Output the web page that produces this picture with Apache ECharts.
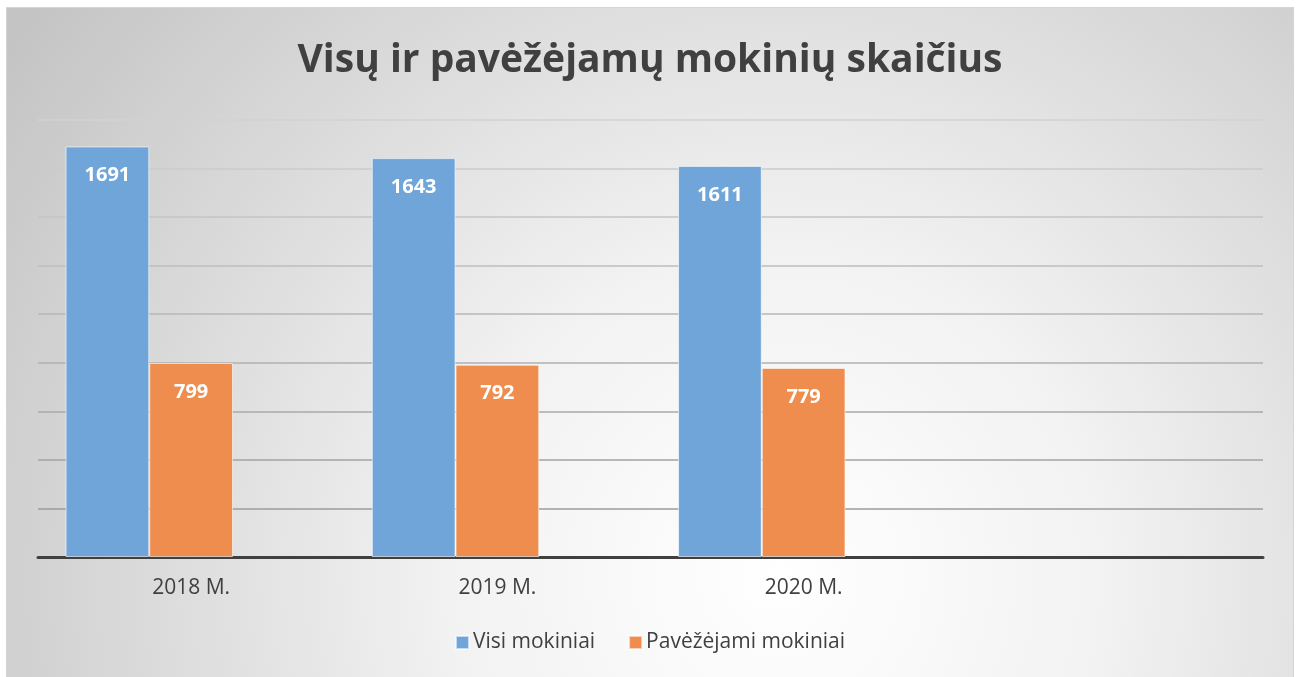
<!DOCTYPE html>
<html>
<head>
<meta charset="utf-8">
<script src="https://cdn.jsdelivr.net/npm/echarts@6/dist/echarts.min.js"></script>
<style>
html, body { margin: 0; padding: 0; background: #fff; }
#chart {
    position: absolute;
    left: 7px;
    top: 8px;
    width: 1286px;
    height: 669px;
    box-shadow: 0 0 0 1px #d4d4d4;
}
</style>
</head>
<body>
<div id="chart"></div>
<script>
// duomenys
const categories = ['2018 M.', '2019 M.', '2020 M.', ''];
const visiMokiniai = [1691, 1643, 1611, null];
const pavezejami = [799, 792, 779, null];
const tusciaSerija = [null, null, null, null]; // trečia tuščia serija kaip Excel'yje

const chart = echarts.init(document.getElementById('chart'));

const labelStyle = {
    show: true,
    position: 'insideTop',
    distance: 19,
    color: '#fff',
    fontWeight: 'bold',
    fontSize: 20,
    fontFamily: 'Open Sans'
};

const option = {
    backgroundColor: {
        type: 'radial',
        x: 0.6, y: 0.85, r: 1.4,
        colorStops: [
            { offset: 0, color: '#ffffff' },
            { offset: 0.35, color: '#f2f2f2' },
            { offset: 0.6, color: '#e0e0e0' },
            { offset: 1, color: '#c4c4c4' }
        ]
    },
    textStyle: { fontFamily: 'Open Sans' },
    title: {
        text: 'Visų ir pavėžėjamų mokinių skaičius',
        left: 'center',
        top: 28,
        textStyle: {
            fontFamily: 'Open Sans',
            fontSize: 39,
            fontWeight: 'bold',
            color: '#404040'
        }
    },
    legend: {
        data: ['Visi mokiniai', 'Pavėžėjami mokiniai'],
        bottom: 19,
        left: 'center',
        icon: 'rect',
        itemWidth: 13,
        itemHeight: 13,
        itemGap: 33,
        textStyle: { fontSize: 21, color: '#404040', padding: [0, 0, 0, -1] }
    },
    grid: { left: 31, right: 30, top: 112, bottom: 120 },
    xAxis: {
        type: 'category',
        data: categories,
        axisLine: { lineStyle: { color: '#404040', width: 3 } },
        axisTick: { show: false },
        axisLabel: { fontSize: 21, color: '#404040', margin: 21 }
    },
    yAxis: {
        type: 'value',
        min: 0,
        max: 1800,
        interval: 200,
        axisLabel: { show: false },
        axisLine: { show: false },
        axisTick: { show: false },
        splitLine: {
            lineStyle: {
                width: 1.5,
                color: {
                    type: 'linear',
                    x: 0, y: 110, x2: 0, y2: 550,
                    global: true,
                    colorStops: [
                        { offset: 0, color: '#d2d2d2' },
                        { offset: 1, color: '#959595' }
                    ]
                }
            }
        }
    },
    series: [
        {
            name: 'Visi mokiniai',
            type: 'bar',
            data: visiMokiniai,
            barGap: '0%',
            barCategoryGap: '18%',
            itemStyle: { color: '#6fa5d8', borderColor: 'rgba(255,255,255,0.6)', borderWidth: 1 },
            label: labelStyle
        },
        {
            name: 'Pavėžėjami mokiniai',
            type: 'bar',
            data: pavezejami,
            itemStyle: { color: '#ee8d4d', borderColor: 'rgba(255,255,255,0.6)', borderWidth: 1 },
            label: labelStyle
        },
        {
            name: 'tuscia',
            type: 'bar',
            data: tusciaSerija
        }
    ]
};

chart.setOption(option);
</script>
</body>
</html>
